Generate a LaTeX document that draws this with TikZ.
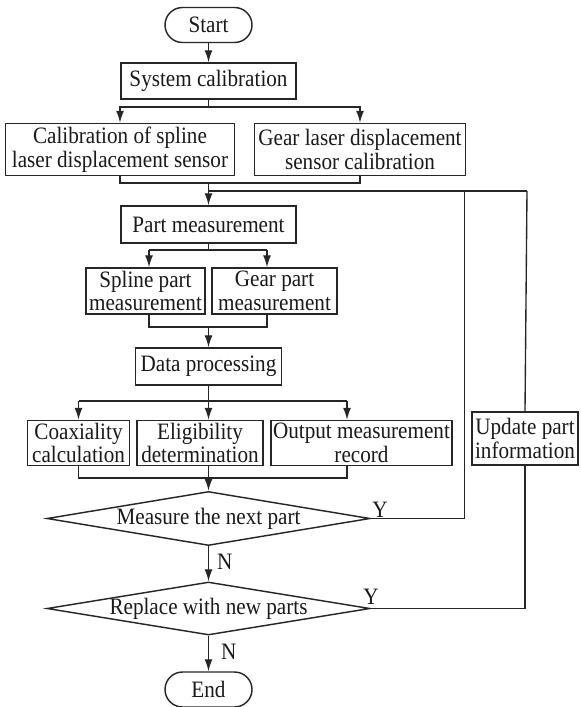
\documentclass[tikz,border=0pt]{standalone}
\usepackage{fontspec}
\setmainfont[FakeStretch=0.9]{Liberation Serif}
\usetikzlibrary{arrows.meta,shapes.geometric,calc}
\begin{document}
\begin{tikzpicture}[x=0.5pt,y=-0.5pt,
  every node/.style={font=\fontsize{11.75pt}{11.9pt}\selectfont, text=black!90},
  sz/.style 2 args={minimum width=#1*0.5pt, minimum height=#2*0.5pt},
  box/.style={draw=black!85, line width=0.72pt, inner sep=0pt, align=center},
  term/.style={box, rounded corners=8.75pt},
  dec/.style={draw=black!85, line width=0.72pt, shape=diamond, aspect=1, inner sep=0pt},
  conn/.style={draw=black!85, line width=0.68pt},
  arr/.style={conn, -{Latex[length=6pt,width=4pt]}},
  lbl/.style={inner sep=0pt}]
\useasboundingbox (0,0) rectangle (581,707);

% nodes
\node[term, sz={87}{35}] (start) at (208.5,25) {Start};
\node[box, sz={175}{36}] (syscal) at (208.5,81) {System calibration};
\node[box, sz={229}{52}] (calspl) at (120,149.5) {Calibration of spline\\laser displacement sensor};
\node[box, sz={211}{52}] (calgear) at (360,149.5) {Gear laser displacement\\sensor calibration};
\node[box, sz={175}{37}] (partm) at (208.5,224.5) {Part measurement};
\node[box, sz={119}{46}] (splp) at (145.5,291) {Spline part\\measurement};
\node[box, sz={125}{46}] (gearp) at (274.5,291) {Gear part\\measurement};
\node[box, sz={146}{37}] (datap) at (208.5,366.5) {Data processing};
\node[box, sz={102}{45}] (coax) at (78.5,443) {Coaxiality\\calculation};
\node[box, sz={126}{45}] (elig) at (200,443) {Eligibility\\determination};
\node[box, sz={181}{45}] (outp) at (361.5,443) {Output measurement\\record};
\node[box, sz={106}{53}] (upd) at (525,438.5) {Update part\\information};
\node[dec, sz={323}{54}] (d1) at (208.5,518.5) {\makebox[0pt][c]{Measure the next part}};
\node[dec, sz={323}{53}] (d2) at (208.5,608.5) {\makebox[0pt][c]{Replace with new parts}};
\node[term, sz={87}{35}] (endn) at (208.5,689.5) {End};

% junction coordinates
\coordinate (s1) at (208.5,107);
\coordinate (m1) at (208.5,183);
\coordinate (fb) at (208.5,191);
\coordinate (fbA) at (464.5,191);
\coordinate (fbB) at (527,191);
\coordinate (s2) at (208.5,250);
\coordinate (b2a) at (149,250);
\coordinate (b2b) at (267,250);
\coordinate (m2) at (208.5,327);
\coordinate (s3) at (208.5,401);
\coordinate (b3a) at (78.5,401);
\coordinate (b3c) at (347,401);
\coordinate (m3) at (208.5,478);

% connectors
\draw[arr] (start) -- (syscal);
\draw[conn] (syscal.south) -- (s1);
\draw[arr] (s1) -| (calspl.north);
\draw[arr] (s1) -| (calgear.north);
\draw[conn] (calspl.south) |- (m1) -| (calgear.south);
\draw[arr] (m1) -- (partm.north);
\draw[conn] (fb) -- (fbB);
\draw[conn] (d1.east) -| (fbA);
\draw[conn] (fbB) -- (upd.north);
\draw[conn] (d2.east) -| (upd.south);

\draw[conn] (partm.south) -- (s2);
\draw[conn] (b2a) -- (b2b);
\draw[arr] (b2a) -- (b2a |- splp.north);
\draw[arr] (b2b) -- (b2b |- gearp.north);
\draw[conn] (b2a |- splp.south) |- (m2) -| (b2b |- gearp.south);
\draw[arr] (m2) -- (datap.north);

\draw[conn] (datap.south) -- (s3);
\draw[conn] (b3a) -- (b3c);
\draw[arr] (b3a) -- (coax.north);
\draw[arr] (s3) -- (s3 |- elig.north);
\draw[arr] (b3c) -- (b3c |- outp.north);
\draw[conn] (coax.south) |- (m3) -| (b3c |- outp.south);
\draw[conn] (s3 |- elig.south) -- (m3);
\draw[arr] (m3) -- (d1.north);

\draw[arr] (d1.south) -- node[lbl, right=4pt, pos=0.45] (n1) {N} (d2.north);
\draw[arr] (d2.south) -- node[lbl, right=6pt, pos=0.45] (n2) {N} (endn.north);

\node[lbl] (y1) at (380,509.5) {Y};
\node[lbl] (y2) at (371,597) {Y};
\end{tikzpicture}
\end{document}
